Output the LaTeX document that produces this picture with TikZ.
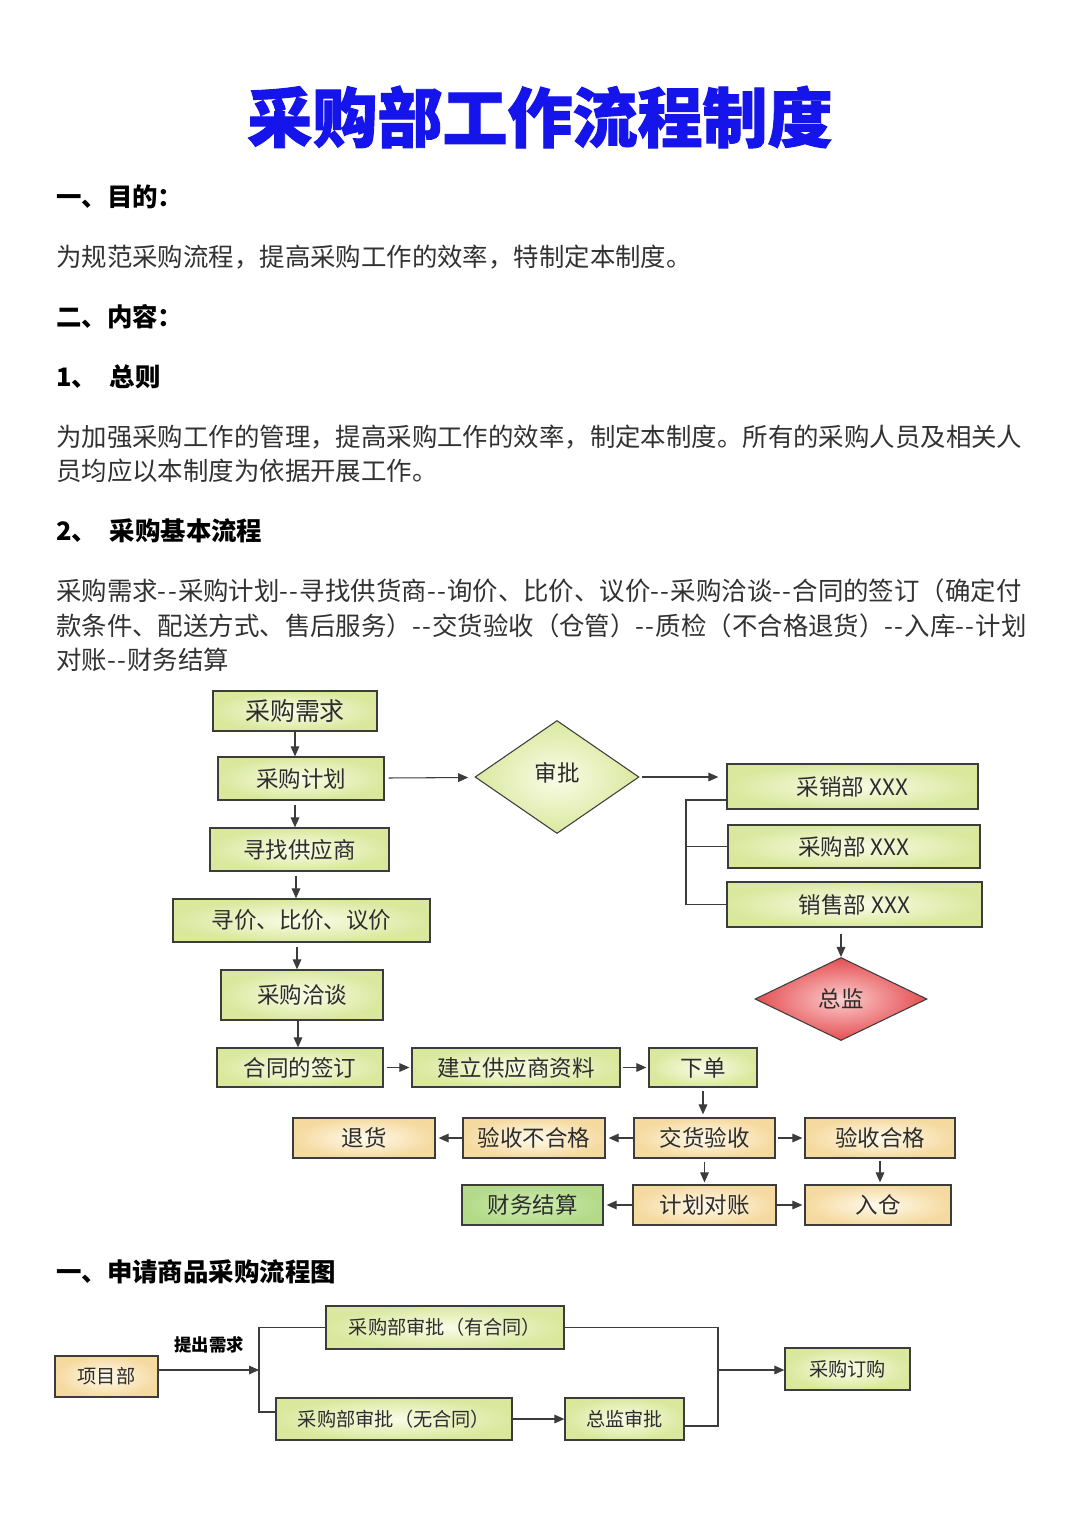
\documentclass[tikz,border=0pt]{standalone}
\usepackage{fontspec}
\setmainfont{Noto Sans CJK SC}[Ligatures=TeXOff]
\newfontfamily\titlefont{Noto Sans CJK SC}[BoldFeatures={FakeBold=1.4}]
\usetikzlibrary{shapes.geometric, arrows.meta, calc}
\usepackage{xcolor}
\definecolor{titleblue}{RGB}{20, 20, 235}
\definecolor{bodyink}{RGB}{50, 50, 50}
\definecolor{flowink}{RGB}{45, 45, 45}
\definecolor{flowline}{RGB}{60, 60, 60}
\definecolor{ygreenin}{RGB}{250, 252, 232}
\definecolor{ygreenout}{RGB}{218, 232, 158}
\definecolor{orangein}{RGB}{255, 250, 236}
\definecolor{orangeout}{RGB}{245, 218, 160}
\definecolor{greenin}{RGB}{208, 236, 178}
\definecolor{greenout}{RGB}{178, 218, 135}
\definecolor{redin}{RGB}{252, 205, 205}
\definecolor{redout}{RGB}{228, 78, 82}
\newcommand\dhy{-\kern0.05em-\kern0.05em}
\tikzset{
  ybox/.style={
    rectangle, draw=flowline, line width=1.1pt,
    inner color=ygreenin, outer color=ygreenout,
    text=flowink, inner sep=0pt,
    font=\fontsize{19.2}{22}\selectfont
  },
  obox/.style={ybox, inner color=orangein, outer color=orangeout},
  gbox/.style={ybox, inner color=greenin, outer color=greenout},
  sbox/.style={ybox, font=\fontsize{16.4}{19}\selectfont},
  sobox/.style={obox, font=\fontsize{16.4}{19}\selectfont},
  ydiam/.style={
    diamond, draw=flowline, line width=0.9pt,
    inner color=ygreenin, outer color=ygreenout,
    text=flowink, inner sep=0pt,
    font=\fontsize{19.2}{22}\selectfont
  },
  rdiam/.style={ydiam, inner color=redin, outer color=redout},
  bodytext/.style={anchor=west, inner sep=0pt, text=bodyink,
    font=\fontsize{21.7}{26}\selectfont},
  headtext/.style={anchor=west, inner sep=0pt, text=black,
    font=\fontsize{21.7}{26}\selectfont\bfseries},
  asktext/.style={inner sep=0pt, text=black,
    font=\fontsize{14.8}{17}\selectfont\bfseries},
  arr/.style={-{Triangle[length=3mm, width=2.6mm]}, line width=0.9pt, draw=flowline},
  link/.style={line width=0.9pt, draw=flowline},
}

\begin{document}
\begin{tikzpicture}[x=0.3mm, y=-0.3mm]
        \fill[white] (0,0) rectangle (1080,1528);
        \useasboundingbox (0,0) rectangle (1080,1528);
        % heading and text
        \node[font=\titlefont\bfseries\fontsize{55.5}{60}\selectfont, text=titleblue] (title) at (540,117) {采购部工作流程制度};
        \node[headtext] (aim) at (56,197) {一、目的：};
        \node[bodytext] (aimtxt) at (56,257) {为规范采购流程，提高采购工作的效率，特制定本制度。};
        \node[headtext] (content) at (56,317) {二、内容：};
        \node[headtext] (general) at (56,377) {1、\hspace{0.5em}总则};
        \node[bodytext] (gentxta) at (56,437) {为加强采购工作的管理，提高采购工作的效率，制定本制度。所有的采购人员及相关人};
        \node[bodytext] (gentxtb) at (56,471) {员均应以本制度为依据开展工作。};
        \node[headtext] (basic) at (56,531) {2、\hspace{0.5em}采购基本流程};
        \node[bodytext] (flowtxta) at (56,591) {采购需求\dhy 采购计划\dhy 寻找供货商\dhy 询价、比价、议价\dhy 采购洽谈\dhy 合同的签订（确定付};
        \node[bodytext] (flowtxtb) at (56,626) {款条件、配送方式、售后服务）\dhy 交货验收（仓管）\dhy 质检（不合格退货）\dhy 入库\dhy 计划};
        \node[bodytext] (flowtxtc) at (56,660) {对账\dhy 财务结算};

        % main flow
        \node[ybox, minimum width=49.2mm, minimum height=12mm, font=\fontsize{21.3}{24}\selectfont] (need) at (295,711) {采购需求};
        \node[ybox, minimum width=49.8mm, minimum height=12.9mm] (plan) at (301,778.5) {采购计划};
        \node[ybox, minimum width=53.7mm, minimum height=12.9mm] (findsup) at (299.5,849.5) {寻找供应商};
        \node[ybox, minimum width=77.1mm, minimum height=12.9mm] (price) at (301.5,920.5) {寻价、比价、议价};
        \node[ybox, minimum width=48.6mm, minimum height=15mm] (negot) at (302,995) {采购洽谈};
        \node[ybox, minimum width=49.8mm, minimum height=11.7mm] (contract) at (300,1067.5) {合同的签订};
        \node[ybox, minimum width=62.4mm, minimum height=11.7mm] (suppdata) at (516,1067.5) {建立供应商资料};
        \node[ybox, minimum width=32.4mm, minimum height=11.7mm] (order) at (703,1067.5) {下单};
        \node[obox, minimum width=42.3mm, minimum height=12mm] (accept) at (704.5,1138) {交货验收};
        \node[obox, minimum width=42.6mm, minimum height=12mm] (reject) at (534,1138) {验收不合格};
        \node[obox, minimum width=42.6mm, minimum height=12mm] (goback) at (364,1138) {退货};
        \node[obox, minimum width=45mm, minimum height=12mm] (pass) at (880,1138) {验收合格};
        \node[obox, minimum width=42.9mm, minimum height=12mm] (recon) at (704.5,1205) {计划对账};
        \node[gbox, minimum width=42.3mm, minimum height=12mm] (settle) at (532.5,1205) {财务结算};
        \node[obox, minimum width=43.8mm, minimum height=12mm] (store) at (878,1205) {入仓};

        \node[ydiam, minimum width=49.2mm, minimum height=33.9mm] (approve) at (557,777) {\raisebox{3.3mm}{审批}};
        \node[ybox, minimum width=75.3mm, minimum height=13.5mm] (salesp) at (852.5,786.5) {采销部 XXX};
        \node[ybox, minimum width=75.6mm, minimum height=12.9mm] (purch) at (854,846.5) {采购部 XXX};
        \node[ybox, minimum width=76.5mm, minimum height=13.5mm] (sales) at (854.5,904.5) {销售部 XXX};
        \node[rdiam, minimum width=51.6mm, minimum height=24.9mm] (director) at (841,999) {总监};

        \draw[arr] (need.south) -- (need.south |- plan.north);
        \draw[arr, shorten <=1.2mm] (need.south |- plan.south) -- (need.south |- findsup.north);
        \draw[arr, shorten <=1.2mm] ($(need.south |- findsup.south)+(1,0)$) -- ($(need.south |- price.north)+(1,0)$);
        \draw[arr, shorten <=1.2mm] ($(need.south |- price.south)+(2,0)$) -- ($(need.south |- negot.north)+(2,0)$);
        \draw[arr] ($(need.south |- negot.south)+(3,0)$) -- ($(need.south |- contract.north)+(3,0)$);
        \draw[arr, shorten <=0.9mm, shorten >=0.6mm] (contract) -- (suppdata);
        \draw[arr, shorten <=0.6mm, shorten >=0.6mm] (suppdata) -- (order);
        \draw[arr, shorten <=0.9mm, shorten >=0.9mm] (order.south) -- (order.south |- accept.north);
        \draw[arr, shorten >=0.9mm] (accept) -- (reject); \draw[arr, shorten >=0.9mm] (reject) -- (goback);
        \draw[arr, shorten <=0.6mm, shorten >=0.6mm] (accept) -- (pass);
        \draw[arr, shorten <=0.9mm, shorten >=0.6mm] (accept) -- (recon);
        \draw[arr, shorten >=0.9mm] (recon) -- (settle); \draw[arr, shorten >=0.6mm] (recon) -- (store);
        \draw[arr, shorten <=0.6mm, shorten >=0.6mm] (pass.south) -- (pass.south |- store.north);

        \draw[arr, shorten <=1.2mm, shorten >=2.1mm] (plan) -- (approve);
        \draw[arr, shorten <=0.6mm, shorten >=2.4mm] (approve.east) -- (approve.east -| salesp.west);
        \coordinate (brace) at (686,800);
        \draw[link] (salesp.west |- brace) -- (brace) |- (sales.west);
        \draw[link] (brace |- purch.west) -- (purch.west);
        \draw[arr, shorten <=1.8mm] (sales.south -| director.north) -- (director.north);

        % request flow
        \node[headtext] (request) at (56,1272) {一、申请商品采购流程图};
        \node[sobox, minimum width=30.9mm, minimum height=12.3mm] (proj) at (106.5,1376.5) {项目部};
        \node[sbox, minimum width=71.4mm, minimum height=12.9mm] (withc) at (445,1327.5) {采购部审批（有合同）};
        \node[sbox, minimum width=70.8mm, minimum height=12.6mm] (noc) at (394,1419) {采购部审批（无合同）};
        \node[sbox, minimum width=35.7mm, minimum height=12.6mm] (dirok) at (624.5,1419) {总监审批};
        \node[sbox, minimum width=37.5mm, minimum height=12.6mm] (buy) at (847.5,1369) {采购订购};
        \node[asktext] (ask) at (209,1345) {提出需求};
        \coordinate (fork) at (259,1370); \coordinate (forkb) at (259,1412);
        \coordinate (merge) at (718,1370); \coordinate (mergeb) at (718,1426);
        \draw[arr] (proj.east |- fork) -- (fork);
        \draw[link] (withc.west) -| (forkb) -- (forkb -| noc.west);
        \draw[arr] (noc) -- (dirok);
        \draw[link] (withc.east) -| (mergeb) -- (mergeb -| dirok.east);
        \draw[arr] (merge) -- (merge -| buy.west);
      \end{tikzpicture}
\end{document}
